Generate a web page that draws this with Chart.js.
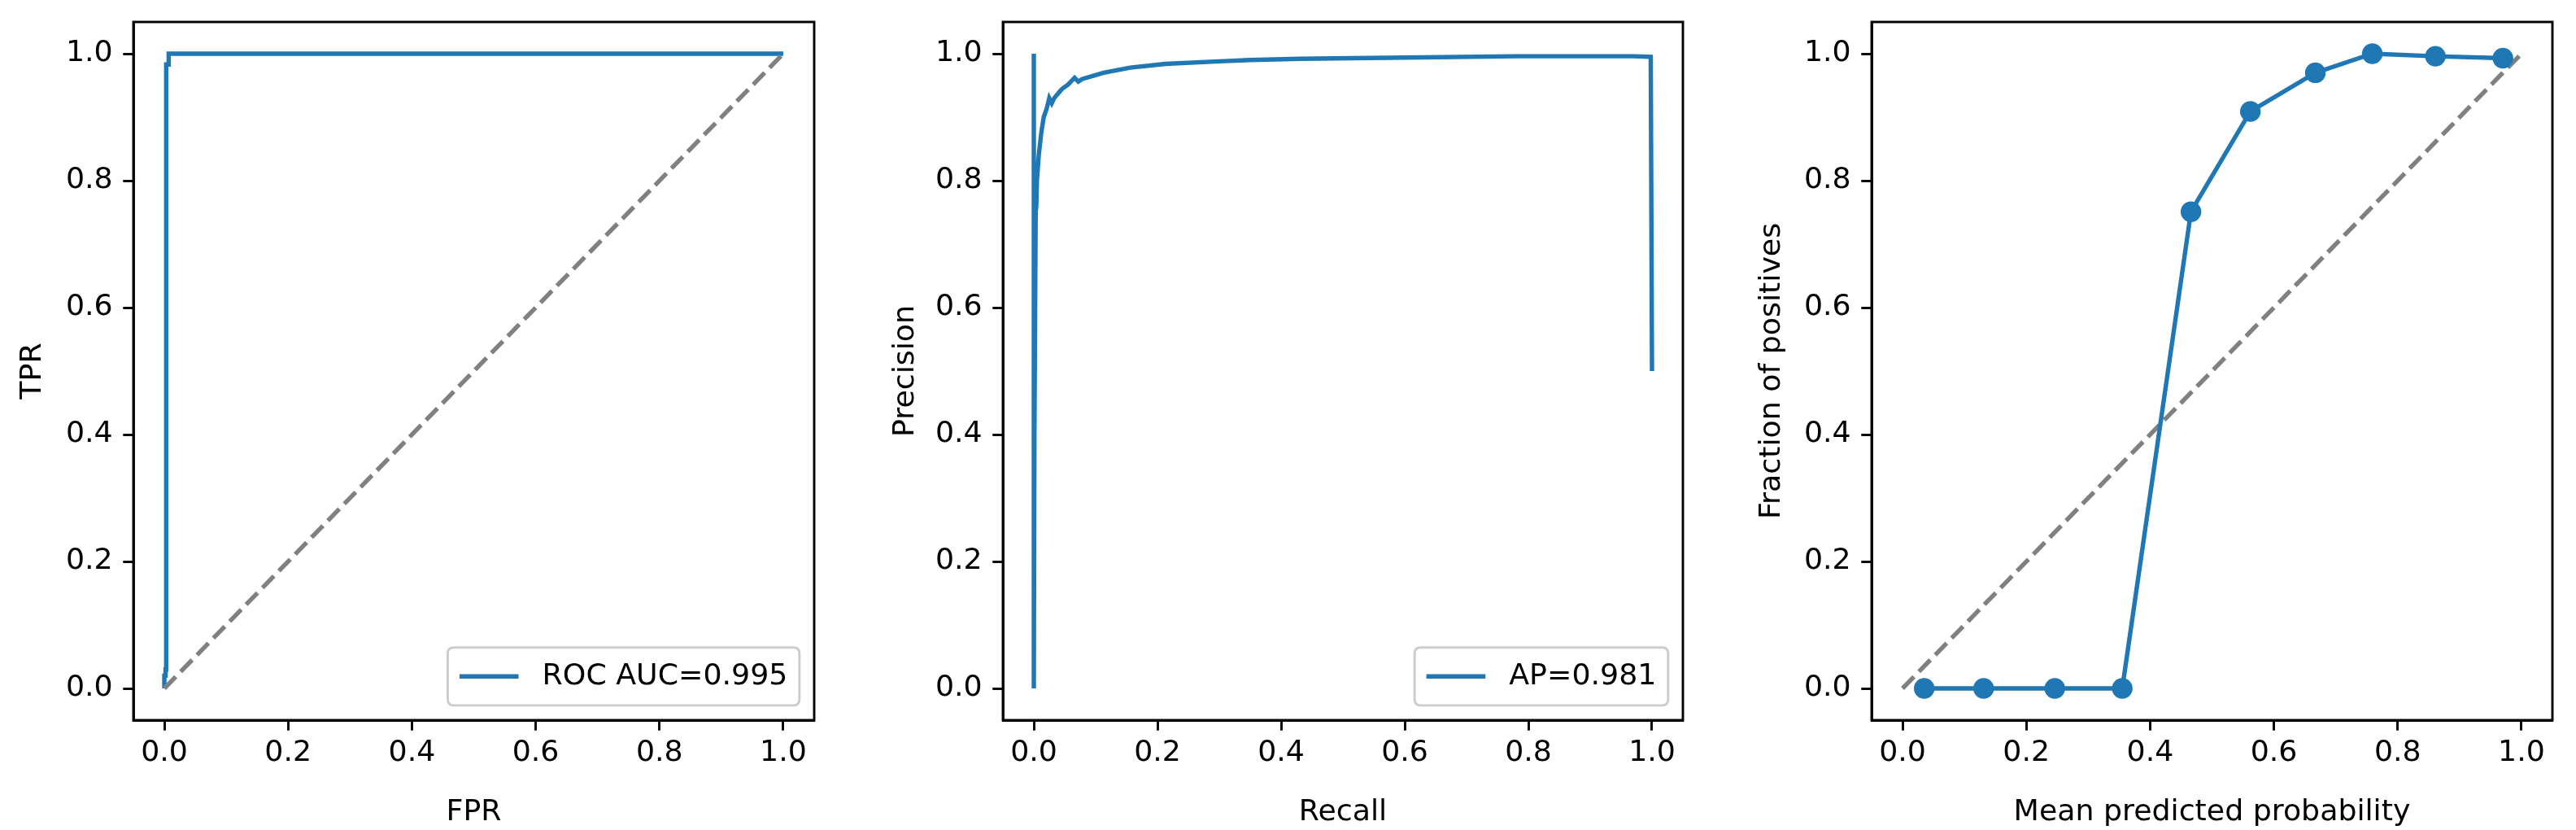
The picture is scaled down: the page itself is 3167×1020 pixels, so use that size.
<!DOCTYPE html>
<html>
<head>
<meta charset="utf-8">
<script src="https://cdn.jsdelivr.net/npm/chart.js@4.4.1/dist/chart.umd.min.js"></script>
<style>
html,body{margin:0;padding:0;background:#fff;width:3167px;height:1020px;overflow:hidden;}
canvas{position:absolute;top:0;}
</style>
</head>
<body>
<canvas id="c1"></canvas>
<canvas id="c2"></canvas>
<canvas id="c3"></canvas>
<script>
// ---------------- data ----------------
const tickValues = [0.0, 0.2, 0.4, 0.6, 0.8, 1.0];

const diagX = [0, 1];
const diagY = [0, 1];

// ROC curve (panel 1)
const rocFpr = [0.0, 0.0, 0.002, 0.002, 0.003, 0.003, 0.007, 0.007, 1.0];
const rocTpr = [0.0, 0.02, 0.02, 0.03, 0.03, 0.983, 0.983, 1.0, 1.0];
const rocLabel = 'ROC AUC=0.995';

// Precision-recall curve (panel 2)
const prRecall = [1.0, 0.998, 0.97, 0.78, 0.6, 0.43, 0.35, 0.3, 0.213, 0.156, 0.113, 0.078, 0.072, 0.066, 0.055, 0.045, 0.038, 0.033, 0.029, 0.025, 0.021, 0.016, 0.012, 0.008, 0.005, 0.004, 0.003, 0.001, 0.0, 0.0];
const prPrecision = [0.5, 0.995, 0.996, 0.996, 0.994, 0.992, 0.990, 0.988, 0.984, 0.978, 0.970, 0.960, 0.956, 0.962, 0.951, 0.944, 0.936, 0.930, 0.922, 0.930, 0.914, 0.900, 0.875, 0.840, 0.800, 0.760, 0.750, 0.400, 0.0, 1.0];
const prLabel = 'AP=0.981';

// Calibration curve (panel 3)
const calMeanPred = [0.035, 0.131, 0.246, 0.355, 0.466, 0.562, 0.667, 0.759, 0.861, 0.970];
const calFracPos = [0.0, 0.0, 0.0, 0.0, 0.751, 0.909, 0.970, 1.0, 0.996, 0.993];

const rocTitles = ['FPR', 'TPR'];
const prTitles = ['Recall', 'Precision'];
const calTitles = ['Mean predicted probability', 'Fraction of positives'];

// ---------------- style ----------------
const FS = 36.3;
const FONT = 'DejaVu Sans';
const BLUE = '#1f77b4';
const GRAY = '#808080';
const LW = 5.4;
const SPINE = 2.9;
const TICK = 12.7;

Chart.defaults.color = '#000';
Chart.defaults.font.family = FONT;
Chart.defaults.font.size = FS;

const toPts = (xs, ys) => xs.map((x, i) => ({x: x, y: ys[i]}));

const boxPlugin = {
  id: 'mplBox',
  afterDraw(chart) {
    const ca = chart.chartArea, ctx = chart.ctx;
    ctx.save();
    ctx.strokeStyle = '#000';
    ctx.lineWidth = SPINE;
    ctx.strokeRect(ca.left, ca.top, ca.right - ca.left, ca.bottom - ca.top);
    ctx.restore();
  }
};

const legendPlugin = {
  id: 'mplLegend',
  afterDatasetsDraw(chart, args, opts) {
    if (!opts || !opts.text) return;
    const ctx = chart.ctx, ca = chart.chartArea;
    ctx.save();
    ctx.font = FS + 'px "' + FONT + '"';
    const tw = ctx.measureText(opts.text).width;
    const pad = 0.4 * FS, hl = 2 * FS, htp = 0.8 * FS, th = 1.16 * FS;
    const w = 2 * pad + hl + htp + tw;
    const h = 2 * pad + th;
    const x1 = ca.right - 0.5 * FS, y1 = ca.bottom - 0.5 * FS;
    const x0 = x1 - w, y0 = y1 - h;
    const r = 0.2 * FS;
    ctx.beginPath();
    ctx.moveTo(x0 + r, y0);
    ctx.lineTo(x1 - r, y0);
    ctx.quadraticCurveTo(x1, y0, x1, y0 + r);
    ctx.lineTo(x1, y1 - r);
    ctx.quadraticCurveTo(x1, y1, x1 - r, y1);
    ctx.lineTo(x0 + r, y1);
    ctx.quadraticCurveTo(x0, y1, x0, y1 - r);
    ctx.lineTo(x0, y0 + r);
    ctx.quadraticCurveTo(x0, y0, x0 + r, y0);
    ctx.closePath();
    ctx.fillStyle = 'rgba(255,255,255,0.8)';
    ctx.fill();
    ctx.strokeStyle = '#cccccc';
    ctx.lineWidth = SPINE;
    ctx.stroke();
    const yc = (y0 + y1) / 2;
    ctx.beginPath();
    ctx.strokeStyle = opts.color;
    ctx.lineWidth = LW;
    ctx.moveTo(x0 + pad, yc);
    ctx.lineTo(x0 + pad + hl, yc);
    ctx.stroke();
    ctx.fillStyle = '#000';
    ctx.textBaseline = 'middle';
    ctx.textAlign = 'left';
    ctx.fillText(opts.text, x0 + pad + hl + htp, yc);
    ctx.restore();
  }
};

function axis(titleText, isX, yWidth, titlePad) {
  return {
    type: 'linear',
    position: isX ? 'bottom' : 'left',
    min: -0.05,
    max: 1.05,
    afterBuildTicks: s => { s.ticks = tickValues.map(v => ({value: v})); },
    afterFit: s => {
      if (isX) { s.height = 135; s.paddingLeft = 0; s.paddingRight = 0; }
      else { s.width = yWidth; s.paddingTop = 0; s.paddingBottom = 0; }
    },
    ticks: {
      padding: isX ? 6 : TICK,
      autoSkip: false,
      maxRotation: 0,
      font: {size: FS, family: FONT},
      color: '#000',
      callback: v => v.toFixed(1)
    },
    grid: {
      drawOnChartArea: false,
      drawTicks: true,
      tickLength: TICK,
      tickWidth: SPINE,
      tickColor: '#000',
      color: '#000'
    },
    border: {display: true, color: '#000', width: SPINE},
    title: {
      display: true,
      text: titleText,
      color: '#000',
      font: {size: FS, family: FONT},
      padding: isX ? {top: 0, bottom: 0} : {top: titlePad, bottom: 0}
    }
  };
}

function makeChart(id, left, width, chartRight, datasets, titles, yTitlePad, legend) {
  const cv = document.getElementById(id);
  cv.width = width; cv.height = 1020;
  cv.style.left = left + 'px';
  cv.style.width = width + 'px';
  cv.style.height = '1020px';
  return new Chart(cv, {
    type: 'scatter',
    data: {datasets: datasets},
    options: {
      responsive: false,
      animation: false,
      devicePixelRatio: 1,
      layout: {padding: {left: 0, top: 27, right: left + width - chartRight, bottom: 0}},
      plugins: {
        legend: {display: false},
        tooltip: {enabled: false},
        mplLegend: legend || {}
      },
      scales: {
        x: axis(titles[0], true, 0, 0),
        y: axis(titles[1], false, 164, yTitlePad)
      }
    },
    plugins: [boxPlugin, legendPlugin]
  });
}

const diagDataset = (order) => ({
  data: toPts(diagX, diagY),
  showLine: true,
  borderColor: GRAY,
  borderWidth: LW,
  borderDash: [20.1, 8.7],
  pointRadius: 0,
  order: order
});

makeChart('c1', 0, 1060, 1001, [
  {data: toPts(rocFpr, rocTpr), showLine: true, borderColor: BLUE, borderWidth: LW, pointRadius: 0, order: 1},
  diagDataset(0)
], rocTitles, 19, {text: rocLabel, color: BLUE});

makeChart('c2', 1069, 1060, 2069, [
  {data: toPts(prRecall, prPrecision), showLine: true, borderColor: BLUE, borderWidth: LW, pointRadius: 0, order: 0}
], prTitles, 23, {text: prLabel, color: BLUE});

makeChart('c3', 2137, 1030, 3138, [
  {data: toPts(calMeanPred, calFracPos), showLine: true, borderColor: BLUE, borderWidth: LW,
   pointRadius: 10.9, pointBackgroundColor: BLUE, pointBorderColor: BLUE, pointBorderWidth: 3.6, order: 0},
  diagDataset(1)
], calTitles, 20, null);
</script>
</body>
</html>
